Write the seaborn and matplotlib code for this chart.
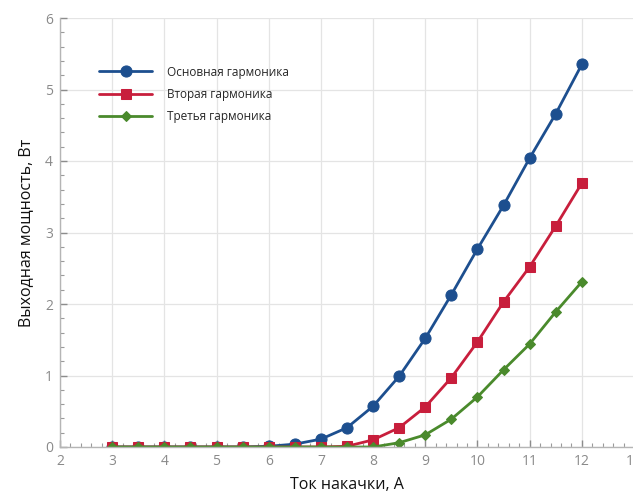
import numpy as np
import pandas as pd
import seaborn as sns
import matplotlib.pyplot as plt
from matplotlib.ticker import MultipleLocator

# Pump current, A
current = [3, 3.5, 4, 4.5, 5, 5.5, 6, 6.5, 7, 7.5, 8, 8.5, 9, 9.5, 10, 10.5, 11, 11.5, 12]

# Output power, W
fundamental = [0.0, 0.0, 0.0, 0.0, 0.0, 0.0, 0.01, 0.04, 0.11, 0.27, 0.57, 0.99,
               1.52, 2.13, 2.77, 3.38, 4.04, 4.66, 5.35]
second = [0.0, 0.0, 0.0, 0.0, 0.0, 0.0, 0.0, 0.0, 0.0, 0.01, 0.10, 0.27,
          0.56, 0.97, 1.47, 2.03, 2.52, 3.09, 3.69]
third = [0.0, 0.0, 0.0, 0.0, 0.0, 0.0, 0.0, 0.0, 0.0, 0.0, 0.0, 0.06,
         0.17, 0.39, 0.70, 1.08, 1.44, 1.89, 2.31]

series_names = ["Основная гармоника", "Вторая гармоника", "Третья гармоника"]
colors = ["#1d4f8f", "#c81e3c", "#4a8a2c"]
markers = ["o", "s", "D"]
marker_sizes = [8, 7, 5.5]

df = pd.DataFrame({
    "current": current * 3,
    "power": fundamental + second + third,
    "series": sum([[n] * len(current) for n in series_names], []),
})

sns.set_theme(style="white")
plt.rcParams["font.family"] = ["Open Sans", "DejaVu Sans"]
plt.rcParams["xtick.bottom"] = True
plt.rcParams["ytick.left"] = True

fig = plt.figure(figsize=(6.33, 4.93), dpi=100)
ax = fig.add_axes([60 / 633, 46 / 493, 574 / 633, 429 / 493])

for name, col, mk, ms in zip(series_names, colors, markers, marker_sizes):
    sub = df[df["series"] == name]
    sns.lineplot(data=sub, x="current", y="power", ax=ax, color=col,
                 marker=mk, markersize=ms, markeredgecolor=col,
                 linewidth=2, label=name)

ax.set_xlim(2, 13)
ax.set_ylim(0, 6)
ax.xaxis.set_major_locator(MultipleLocator(1))
ax.yaxis.set_major_locator(MultipleLocator(1))
ax.xaxis.set_minor_locator(MultipleLocator(0.2))
ax.yaxis.set_minor_locator(MultipleLocator(0.2))
ax.grid(True, which="major", color="#e4e4e4", linewidth=0.9)
ax.set_axisbelow(True)

for side in ["top", "right"]:
    ax.spines[side].set_visible(False)
for side in ["left", "bottom"]:
    ax.spines[side].set_color("#b5b5b5")
    ax.spines[side].set_linewidth(1)

ax.tick_params(axis="both", which="major", direction="in", length=5, width=1,
               color="#8c8c8c", labelsize=10, labelcolor="#8a8a8a", pad=5,
               bottom=True, left=True)
ax.tick_params(axis="both", which="minor", direction="in", length=3, width=0.8,
               color="#9a9a9a", bottom=True, left=True)

ax.set_xlabel("Ток накачки, А", fontsize=11.5, color="#111111", labelpad=6)
ax.set_ylabel("Выходная мощность, Вт", fontsize=11.5, color="#111111", labelpad=8)

leg = ax.legend(loc="upper left", bbox_to_anchor=(0.05, 0.914), frameon=False,
                fontsize=8.5, handlelength=4.5, labelspacing=0.8, handletextpad=1.2)

fig.savefig("out.png", dpi=100)
